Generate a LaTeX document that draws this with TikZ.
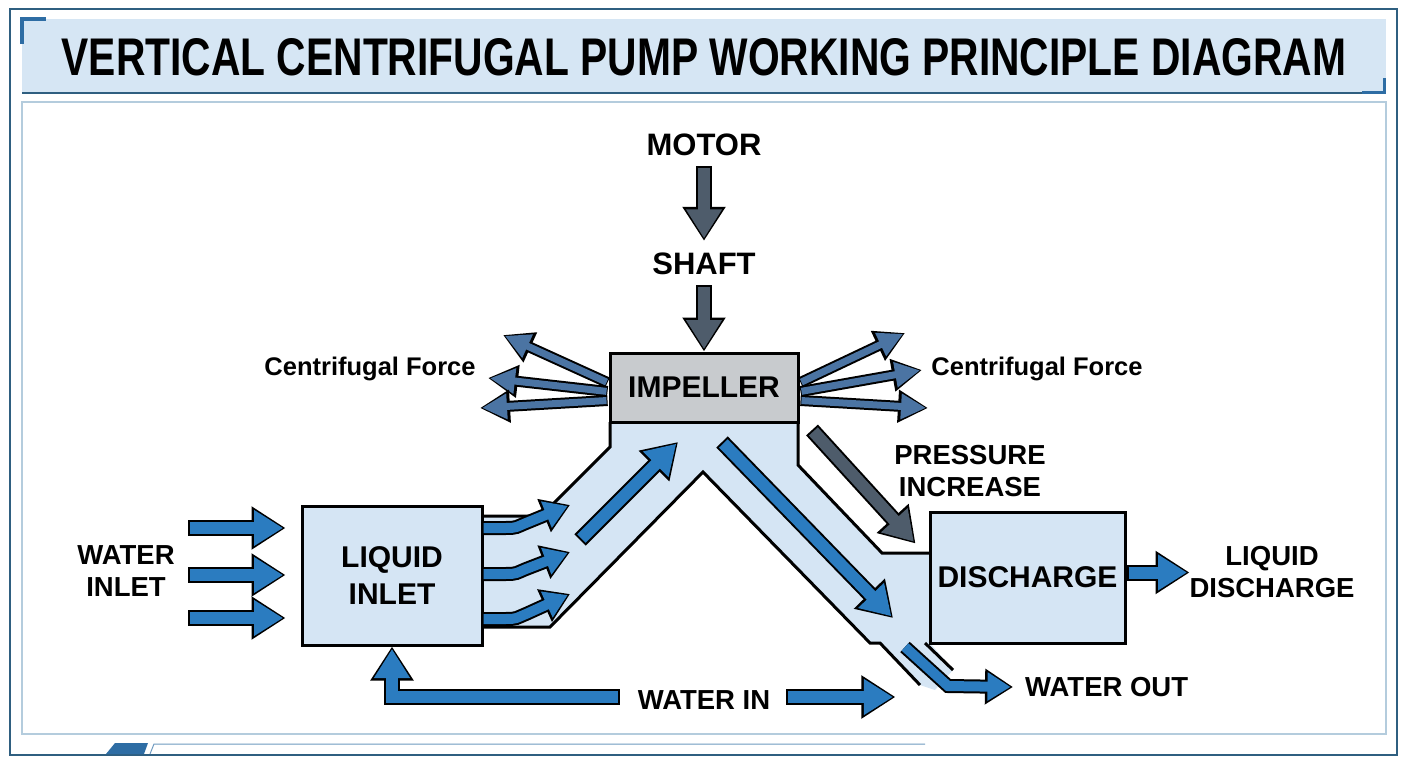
\documentclass[tikz,border=0pt]{standalone}
\usepackage{fontspec}
\setmainfont{Liberation Sans}
\usepackage{graphicx}
\usetikzlibrary{arrows.meta,calc}

\definecolor{flowblue}{HTML}{2B7CC0}
\definecolor{slate}{HTML}{4E5C6B}
\definecolor{fanblue}{HTML}{4B74A3}
\definecolor{pipefill}{HTML}{D5E5F4}
\definecolor{impfill}{HTML}{C8CBCE}
\definecolor{framec}{HTML}{2F5F80}
\definecolor{accent}{HTML}{2E6DA4}
\definecolor{bandc}{HTML}{D6E6F4}
\definecolor{panelc}{HTML}{B4CCDD}

% two passes: black outline, then coloured core
\newcommand{\fatarrow}[2]{%
  \draw[#1 edge] #2;
  \draw[#1 core] #2;
}

\tikzset{
  flow edge/.style={draw=black, line width=16pt, -{Triangle[length=34pt,width=41pt]}},
  flow core/.style={draw=flowblue, line width=12pt, shorten <=2pt, shorten >=2.5pt, -{Triangle[length=29pt,width=34pt]}},
  slate edge/.style={draw=black, line width=16pt, -{Triangle[length=34pt,width=41pt]}},
  slate core/.style={draw=slate, line width=12pt, shorten <=2pt, shorten >=2.5pt, -{Triangle[length=29pt,width=34pt]}},
  small edge/.style={draw=black, line width=14pt, -{Triangle[length=28pt,width=34pt]}},
  small core/.style={draw=flowblue, line width=10pt, shorten <=0pt, shorten >=2.5pt, -{Triangle[length=23pt,width=27pt]}},
  fan edge/.style={draw=black, line width=11pt, -{Triangle[length=30pt,width=31pt]}},
  fan core/.style={draw=fanblue, line width=7pt, shorten <=1pt, shorten >=2pt, -{Triangle[length=25pt,width=24pt]}},
  wall/.style={draw=black, line width=3pt, line join=miter},
  box/.style={draw=black, line width=3pt, fill=pipefill, inner sep=0pt, align=center,
    font=\bfseries\fontsize{30}{37}\selectfont},
  lbl/.style={inner sep=0pt, align=center, font=\bfseries\fontsize{31}{34}\selectfont},
  sublbl/.style={inner sep=0pt, align=center, font=\bfseries\fontsize{27.5}{32}\selectfont},
  cflbl/.style={inner sep=0pt, font=\bfseries\fontsize{25.5}{28}\selectfont}
}

\begin{document}
\begin{tikzpicture}[x=1pt, y=-1pt]
\useasboundingbox (0,0) rectangle (1408,768);

% frame and title band
\draw[framec, line width=2pt] (10,9) rectangle (1397,755);
\fill[bandc] (22,19) rectangle (1386,93);
\draw[framec, line width=2pt] (22,93) -- (1386,93);
\draw[accent, line width=4pt] (22,44) -- (22,19) -- (46,19);
\draw[accent, line width=3pt] (1362,92) -- (1384,92) -- (1384,78);
\node (title) at (704,57) {\resizebox{1284pt}{37pt}{\bfseries VERTICAL CENTRIFUGAL PUMP WORKING PRINCIPLE DIAGRAM}};
\draw[panelc, line width=1.2pt] (22,102) rectangle (1386,734);
\fill[accent] (115,743) -- (148,743) -- (144,754) -- (106,754) -- cycle;
\draw[accent!70, line width=1pt] (150,754) -- (154,744) -- (925,744);

% pipe
\coordinate (apex) at (703,472);
\fill[pipefill] (482,516) -- (541,516) -- (610,447) -- (610,422) -- (798,422) -- (798,465)
  -- (882,553) -- (930,553) -- (930,643) -- (953,670) -- (935,690) -- (920,685)
  -- (880,643) -- (870,643) -- (apex) -- (550,627) -- (482,627) -- cycle;
\draw[wall] (482,516) -- (541,516) -- (610,447) -- (610,422);
\draw[wall] (798,422) -- (798,465) -- (882,553) -- (930,553);
\draw[wall] (482,627) -- (550,627) -- (apex) -- (870,643) -- (880,643) -- (920,685);
\draw[wall] (925,643) -- (953,670);

% boxes
\node[box, fill=impfill, minimum width=188pt, minimum height=69pt] (impeller) at (704,387.5) {IMPELLER};
\node[box, minimum width=180pt, minimum height=139pt] (inlet) at (392,575.5) {LIQUID\\INLET};
\node[box, minimum width=195pt, minimum height=131pt] (discharge) at (1027.5,577.5) {DISCHARGE};

% labels
\node[lbl] (motor) at (704,145) {MOTOR};
\node[lbl] (shaft) at (704,264) {SHAFT};
\node[sublbl] (waterinlet) at (126,571) {WATER\\INLET};
\node[sublbl] (pressure) at (970,471) {PRESSURE\\INCREASE};
\node[sublbl] (liqdis) at (1272,572) {LIQUID\\DISCHARGE};
\node[sublbl, anchor=west] (waterout) at (1025,687) {WATER OUT};
\node[sublbl] (waterin) at (704,700) {WATER IN};
\node[cflbl] (cfleft) at (370,369) {Centrifugal Force};
\node[cflbl] (cfright) at (1037,369) {Centrifugal Force};

% drive
\fatarrow{slate}{($(motor.south)+(0,10)$) -- ($(shaft.north)+(0,-12)$)}
\fatarrow{slate}{($(shaft.south)+(0,10)$) -- (impeller.north)}

% centrifugal force
\foreach \dy/\tx/\ty in {-5/503/335, 4/488/378, 13/480/408} {
  \fatarrow{fan}{($(impeller.west)+(-1,\dy)$) -- (\tx,\ty)}
}
\foreach \dy/\tx/\ty in {-5/905/333, 4/922/370, 13/928/408} {
  \fatarrow{fan}{($(impeller.east)+(1,\dy)$) -- (\tx,\ty)}
}

% water inlet
\foreach \y in {528,575,618} {
  \coordinate (wi\y) at (188,\y);
  \fatarrow{flow}{(wi\y) -- ($(inlet.west |- wi\y)+(-15,0)$)}
}
\foreach \a/\b in {528/505, 574/552, 619/594} {
  \fatarrow{small}{(inlet.east |- 0,\a) -- ++(22,0) .. controls +(12,0) and +(-10,4) .. (526,\a-5) -- (570,\b)}
}

% flow through impeller
\coordinate (upL) at (580,540);
\coordinate (upR) at (678,442);
\coordinate (dnL) at (722,442);
\coordinate (dnR) at (893,618);
\fatarrow{flow}{(upL) -- (upR)}
\fatarrow{flow}{(dnL) -- (dnR)}
\coordinate (prs) at (812,430);
\fatarrow{slate}{(prs) -- ($(discharge.north west)+(-13,33)$)}

% outlets
\fatarrow{flow}{($(discharge.east)+(0,-5)$) -- ++(63,0)}
\coordinate (wo) at (905,647);
\fatarrow{small}{(wo) -- (948,686) -- ($(waterout.west)+(-12,0)$)}

% water in
\fatarrow{flow}{($(waterin.west)+(-18,-3)$) -| (inlet.south)}
\fatarrow{flow}{($(waterin.east)+(16,-3)$) -- ++(109,0)}
\end{tikzpicture}
\end{document}
